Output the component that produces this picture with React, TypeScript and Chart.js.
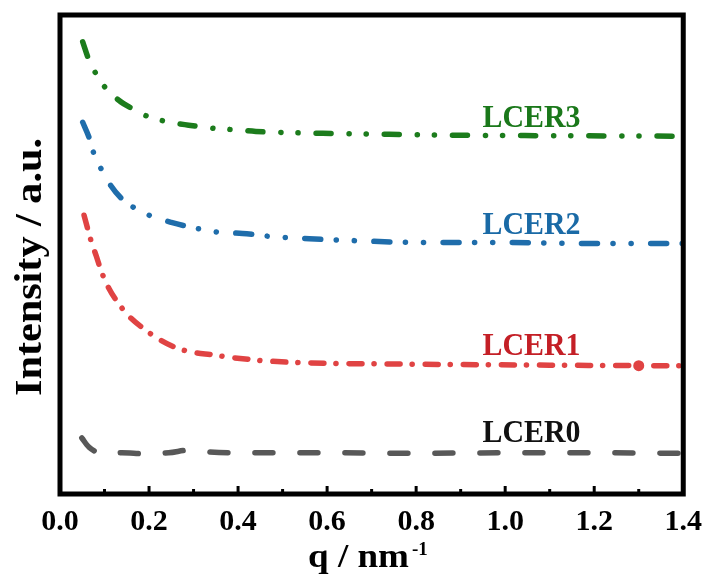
import React, { useEffect, useRef } from "react";
import { Chart, registerables } from "chart.js";

Chart.register(...registerables);

// ---- data (q in nm^-1, intensity in arbitrary units) ----
const qLCER3 = [0.051, 0.065, 0.083, 0.103, 0.132, 0.161, 0.195, 0.237, 0.289, 0.34, 0.385, 0.44, 0.49, 0.59, 0.74, 0.89, 1.1, 1.4];
const iLCER3 = [94.4, 90.6, 87.4, 84.7, 82.2, 80.5, 78.9, 77.8, 77.0, 76.4, 76.1, 75.7, 75.5, 75.3, 75.1, 74.9, 74.8, 74.7];

const qLCER2 = [0.051, 0.065, 0.076, 0.094, 0.114, 0.136, 0.166, 0.2, 0.25, 0.31, 0.36, 0.41, 0.47, 0.56, 0.66, 0.82, 1.0, 1.2, 1.4];
const iLCER2 = [77.6, 74.5, 71.1, 67.6, 64.4, 61.9, 59.8, 58.2, 56.7, 55.4, 54.6, 54.4, 53.8, 53.3, 52.9, 52.5, 52.5, 52.3, 52.3];

const qLCER1 = [0.054, 0.069, 0.081, 0.094, 0.11, 0.132, 0.154, 0.188, 0.221, 0.262, 0.304, 0.34, 0.385, 0.461, 0.55, 0.8, 1.1, 1.3, 1.4];
const iLCER1 = [58.2, 53.1, 49.8, 46.2, 42.9, 39.7, 37.2, 34.5, 32.4, 30.5, 29.5, 29.1, 28.5, 27.8, 27.4, 27.1, 26.9, 26.8, 26.8];

const qLCER0 = [0.049, 0.065, 0.105, 0.139, 0.192, 0.244, 0.293, 0.333, 0.394, 0.6, 0.8, 1.0, 1.2, 1.4];
const iLCER0 = [11.7, 9.8, 8.2, 8.6, 8.4, 8.6, 9.2, 8.8, 8.6, 8.6, 8.5, 8.6, 8.6, 8.5];

const markerQ = 1.3; // highlighted point on LCER1

const xTicks = [0, 0.2, 0.4, 0.6, 0.8, 1.0, 1.2, 1.4];
const minorTicks = [0.1, 0.3, 0.5, 0.7, 0.9, 1.1, 1.3];

const seriesLabels = ["LCER3", "LCER2", "LCER1", "LCER0"];
const labelQ = [0.94, 0.94, 0.94, 0.94];
const labelI = [76.6, 54.2, 29.0, 10.9];

const FONT = '"Liberation Serif", "Times New Roman", serif';

const colors = {
  g: "#1c7c1c",
  b: "#1f6dab",
  r: "#e04343",
  k: "#585858",
};
const textColors = ["#1a781a", "#1a6aa6", "#c41f26", "#111111"];

function toXY(q: number[], v: number[]) {
  return q.map((x, i) => ({ x, y: v[i] }));
}

const overlayPlugin = {
  id: "overlay",
  afterDraw(chart: any) {
    const { ctx, chartArea } = chart;
    const xs = chart.scales.x;
    const ys = chart.scales.y;
    ctx.save();
    // frame
    ctx.strokeStyle = "#000";
    ctx.lineWidth = 5;
    ctx.lineJoin = "miter";
    ctx.strokeRect(chartArea.left, chartArea.top, chartArea.right - chartArea.left, chartArea.bottom - chartArea.top);
    // inward ticks
    ctx.lineWidth = 3;
    ctx.lineCap = "butt";
    xTicks.forEach((t) => {
      const px = xs.getPixelForValue(t);
      ctx.beginPath();
      ctx.moveTo(px, chartArea.bottom);
      ctx.lineTo(px, chartArea.bottom - 8);
      ctx.stroke();
    });
    minorTicks.forEach((t) => {
      const px = xs.getPixelForValue(t);
      ctx.beginPath();
      ctx.moveTo(px, chartArea.bottom);
      ctx.lineTo(px, chartArea.bottom - 5);
      ctx.stroke();
    });
    // series labels
    ctx.font = `bold 31px ${FONT}`;
    ctx.textAlign = "left";
    ctx.textBaseline = "alphabetic";
    seriesLabels.forEach((s, i) => {
      const w = ctx.measureText(s).width;
      ctx.save();
      ctx.translate(xs.getPixelForValue(labelQ[i]) + 4, ys.getPixelForValue(labelI[i]));
      ctx.scale(98 / w, 1);
      ctx.fillStyle = textColors[i];
      ctx.fillText(s, 0, 0);
      ctx.restore();
    });
    // y title
    ctx.fillStyle = "#000";
    ctx.font = `bold 37px ${FONT}`;
    const yt = "Intensity / a.u.";
    const w = ctx.measureText(yt).width;
    ctx.save();
    ctx.translate(41, 267);
    ctx.rotate(-Math.PI / 2);
    ctx.scale(258 / w, 1);
    ctx.textAlign = "center";
    ctx.fillText(yt, 0, 0);
    ctx.restore();
    // x title with superscript
    ctx.font = `bold 34px ${FONT}`;
    const main = "q / nm";
    const mw = ctx.measureText(main).width;
    ctx.save();
    ctx.translate(308, 567);
    ctx.scale(101 / mw, 1);
    ctx.textAlign = "left";
    ctx.fillText(main, 0, 0);
    ctx.restore();
    ctx.font = `bold 19px ${FONT}`;
    ctx.textAlign = "left";
    ctx.fillText("-1", 412, 555);
    ctx.restore();
  },
};

export default function App() {
  const ref = useRef<HTMLCanvasElement | null>(null);
  useEffect(() => {
    document.body.style.margin = "0";
    const canvas = ref.current;
    if (!canvas) return;
    const common = {
      borderWidth: 5.5,
      borderCapStyle: "round" as const,
      borderJoinStyle: "round" as const,
      pointRadius: 0,
      fill: false,
      cubicInterpolationMode: "monotone" as const,
    };
    const chart = new Chart(canvas, {
      type: "line",
      data: {
        datasets: [
          { ...common, label: "LCER3", data: toXY(qLCER3, iLCER3), borderColor: colors.g, borderDash: [15, 18, 0.1, 17, 0.1, 18] },
          { ...common, label: "LCER2", data: toXY(qLCER2, iLCER2), borderColor: colors.b, borderDash: [16, 15.5, 0.1, 18, 0.1, 19.5] },
          {
            ...common,
            label: "LCER1",
            data: toXY(qLCER1, iLCER1),
            borderColor: colors.r,
            borderDash: [13, 12, 0.1, 13],
            pointRadius: (c: any) => (c.raw && c.raw.x === markerQ ? 5.5 : 0),
            pointBackgroundColor: colors.r,
            pointBorderWidth: 0,
          },
          { ...common, label: "LCER0", data: toXY(qLCER0, iLCER0), borderColor: colors.k, borderDash: [18, 27] },
        ],
      },
      options: {
        responsive: false,
        animation: false,
        events: [],
        layout: { padding: { top: 15, right: 26, left: 0, bottom: 0 } },
        plugins: { legend: { display: false }, tooltip: { enabled: false } },
        scales: {
          x: {
            type: "linear",
            min: 0,
            max: 1.4,
            grid: { display: false, drawTicks: false },
            border: { display: false },
            afterBuildTicks: (s: any) => {
              s.ticks = xTicks.map((v) => ({ value: v }));
            },
            ticks: {
              color: "#000",
              padding: 10,
              maxRotation: 0,
              autoSkip: false,
              font: { family: FONT, size: 30, weight: "bold" },
              callback: (v: any) => Number(v).toFixed(1),
            },
            afterFit: (s: any) => {
              s.height = 87;
            },
          },
          y: {
            type: "linear",
            min: 0,
            max: 100,
            grid: { display: false, drawTicks: false },
            border: { display: false },
            ticks: { display: false },
            afterFit: (s: any) => {
              s.width = 60;
            },
          },
        },
      },
      plugins: [overlayPlugin],
    } as any);
    return () => chart.destroy();
  }, []);
  return (
    <div style={{ position: "fixed", left: 0, top: 0, width: 712, height: 581, background: "#fff" }}>
      <canvas ref={ref} width={712} height={581} />
    </div>
  );
}
